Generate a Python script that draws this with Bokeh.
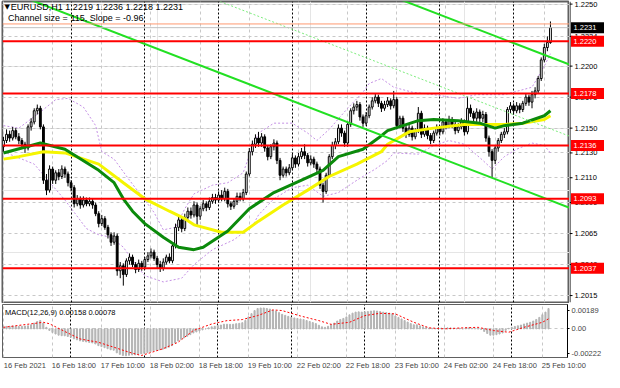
from bokeh.plotting import figure
from bokeh.layouts import column, row
from bokeh.models import Range1d, FixedTicker, Grid, Label, Span
from bokeh.core.properties import value
from bokeh.embed import file_html
from bokeh.resources import INLINE

FONT = "Liberation Sans"
FS = "7.5px"
HFS = "9px"

# ---------------- data ----------------
time_labels = ["16 Feb 2021", "16 Feb 18:00", "17 Feb 10:00", "18 Feb 02:00", "18 Feb 18:00",
               "19 Feb 10:00", "22 Feb 02:00", "22 Feb 18:00", "23 Feb 10:00", "24 Feb 02:00",
               "24 Feb 18:00", "25 Feb 10:00"]
label_bars = [0, 16, 32, 48, 64, 80, 96, 112, 128, 144, 160, 176]
day_start_bars = [22, 46, 70, 94, 118, 142, 166]
price_ticks = [1.2250, 1.2224, 1.2200, 1.2175, 1.2150, 1.2130, 1.2110, 1.2090, 1.2065, 1.2040, 1.2015]
levels = [1.2220, 1.2178, 1.2136, 1.2093, 1.2037]
bid = 1.2231
ask = 1.2234

closes = [1.2140, 1.2145, 1.2142, 1.2148, 1.2143, 1.2140, 1.2137, 1.2134, 1.2151, 1.2155,
          1.2164, 1.2166, 1.2151, 1.2108, 1.2100, 1.2117, 1.2108, 1.2114, 1.2111, 1.2117,
          1.2113, 1.2106, 1.2102, 1.2089, 1.2093, 1.2088, 1.2092, 1.2089, 1.2091, 1.2088,
          1.2081, 1.2073, 1.2077, 1.2070, 1.2064, 1.2058, 1.2063, 1.2035, 1.2039, 1.2032,
          1.2043, 1.2046, 1.2040, 1.2036, 1.2041, 1.2038, 1.2044, 1.2047, 1.2050, 1.2045,
          1.2040, 1.2037, 1.2042, 1.2046, 1.2043, 1.2055, 1.2070, 1.2076, 1.2069, 1.2078,
          1.2083, 1.2080, 1.2088, 1.2079, 1.2085, 1.2089, 1.2086, 1.2091, 1.2094, 1.2092,
          1.2096, 1.2093, 1.2099, 1.2089, 1.2087, 1.2091, 1.2095, 1.2093, 1.2098, 1.2113,
          1.2131, 1.2137, 1.2142, 1.2138, 1.2143, 1.2134, 1.2127, 1.2135, 1.2138, 1.2124,
          1.2112, 1.2117, 1.2114, 1.2118, 1.2126, 1.2121, 1.2127, 1.2131, 1.2128, 1.2122,
          1.2125, 1.2121, 1.2117, 1.2104, 1.2099, 1.2112, 1.2127, 1.2136, 1.2139, 1.2150,
          1.2146, 1.2138, 1.2153, 1.2164, 1.2167, 1.2169, 1.2159, 1.2154, 1.2160, 1.2167,
          1.2172, 1.2175, 1.2170, 1.2166, 1.2169, 1.2172, 1.2168, 1.2173, 1.2152, 1.2158,
          1.2150, 1.2145, 1.2150, 1.2143, 1.2148, 1.2162, 1.2145, 1.2150, 1.2144, 1.2140,
          1.2146, 1.2150, 1.2147, 1.2155, 1.2152, 1.2157, 1.2153, 1.2148, 1.2151, 1.2155,
          1.2147, 1.2166, 1.2162, 1.2158, 1.2163, 1.2158, 1.2161, 1.2142, 1.2131, 1.2124,
          1.2134, 1.2140, 1.2145, 1.2147, 1.2165, 1.2168, 1.2164, 1.2168, 1.2165, 1.2170,
          1.2175, 1.2171, 1.2177, 1.2180, 1.2190, 1.2205, 1.2215, 1.2219, 1.2231]

opens = [1.2135, 1.2140, 1.2145, 1.2142, 1.2148, 1.2143, 1.2140, 1.2137, 1.2134, 1.2151,
         1.2155, 1.2164, 1.2166, 1.2151, 1.2108, 1.2100, 1.2117, 1.2108, 1.2114, 1.2111,
         1.2117, 1.2113, 1.2106, 1.2102, 1.2089, 1.2093, 1.2088, 1.2092, 1.2089, 1.2091,
         1.2088, 1.2081, 1.2073, 1.2077, 1.2070, 1.2064, 1.2058, 1.2063, 1.2035, 1.2039,
         1.2032, 1.2043, 1.2046, 1.2040, 1.2036, 1.2041, 1.2038, 1.2044, 1.2047, 1.2050,
         1.2045, 1.2040, 1.2037, 1.2042, 1.2046, 1.2043, 1.2055, 1.2070, 1.2076, 1.2069,
         1.2078, 1.2083, 1.2080, 1.2088, 1.2079, 1.2085, 1.2089, 1.2086, 1.2091, 1.2094,
         1.2092, 1.2096, 1.2093, 1.2099, 1.2089, 1.2087, 1.2091, 1.2095, 1.2093, 1.2098,
         1.2113, 1.2131, 1.2137, 1.2142, 1.2138, 1.2143, 1.2134, 1.2127, 1.2135, 1.2138,
         1.2124, 1.2112, 1.2117, 1.2114, 1.2118, 1.2126, 1.2121, 1.2127, 1.2131, 1.2128,
         1.2122, 1.2125, 1.2121, 1.2117, 1.2104, 1.2099, 1.2112, 1.2127, 1.2136, 1.2139,
         1.2150, 1.2146, 1.2138, 1.2153, 1.2164, 1.2167, 1.2169, 1.2159, 1.2154, 1.2160,
         1.2167, 1.2172, 1.2175, 1.2170, 1.2166, 1.2169, 1.2172, 1.2168, 1.2173, 1.2152,
         1.2158, 1.2150, 1.2145, 1.2150, 1.2143, 1.2148, 1.2162, 1.2145, 1.2150, 1.2144,
         1.2140, 1.2146, 1.2150, 1.2147, 1.2155, 1.2152, 1.2157, 1.2153, 1.2148, 1.2151,
         1.2155, 1.2147, 1.2166, 1.2162, 1.2158, 1.2163, 1.2158, 1.2161, 1.2142, 1.2131,
         1.2124, 1.2134, 1.2140, 1.2145, 1.2147, 1.2165, 1.2168, 1.2164, 1.2168, 1.2165,
         1.2170, 1.2175, 1.2171, 1.2177, 1.2180, 1.2190, 1.2205, 1.2215, 1.2219]

highs = [1.2143, 1.2149, 1.2148, 1.2151, 1.2150, 1.2146, 1.2142, 1.2139, 1.2153, 1.2158,
         1.2166, 1.2169, 1.2168, 1.2153, 1.2113, 1.2120, 1.2119, 1.2116, 1.2117, 1.2120,
         1.2119, 1.2115, 1.2108, 1.2104, 1.2096, 1.2095, 1.2095, 1.2094, 1.2094, 1.2093,
         1.2090, 1.2083, 1.2080, 1.2079, 1.2072, 1.2066, 1.2066, 1.2065, 1.2042, 1.2041,
         1.2045, 1.2049, 1.2048, 1.2042, 1.2044, 1.2043, 1.2046, 1.2050, 1.2053, 1.2052,
         1.2047, 1.2043, 1.2045, 1.2048, 1.2049, 1.2057, 1.2073, 1.2079, 1.2078, 1.2081,
         1.2086, 1.2086, 1.2091, 1.2090, 1.2087, 1.2092, 1.2091, 1.2094, 1.2097, 1.2097,
         1.2099, 1.2100, 1.2102, 1.2101, 1.2091, 1.2093, 1.2098, 1.2098, 1.2101, 1.2115,
         1.2134, 1.2140, 1.2145, 1.2147, 1.2146, 1.2145, 1.2136, 1.2137, 1.2141, 1.2140,
         1.2126, 1.2119, 1.2119, 1.2121, 1.2129, 1.2128, 1.2130, 1.2134, 1.2137, 1.2130,
         1.2128, 1.2127, 1.2123, 1.2119, 1.2106, 1.2114, 1.2129, 1.2139, 1.2142, 1.2153,
         1.2153, 1.2148, 1.2155, 1.2166, 1.2170, 1.2172, 1.2171, 1.2161, 1.2163, 1.2169,
         1.2175, 1.2178, 1.2177, 1.2172, 1.2172, 1.2175, 1.2174, 1.2180, 1.2175, 1.2160,
         1.2160, 1.2152, 1.2153, 1.2152, 1.2150, 1.2167, 1.2164, 1.2153, 1.2152, 1.2146,
         1.2148, 1.2153, 1.2152, 1.2158, 1.2157, 1.2160, 1.2159, 1.2155, 1.2154, 1.2158,
         1.2157, 1.2175, 1.2169, 1.2164, 1.2166, 1.2165, 1.2164, 1.2163, 1.2144, 1.2133,
         1.2136, 1.2142, 1.2147, 1.2150, 1.2167, 1.2171, 1.2170, 1.2171, 1.2170, 1.2172,
         1.2178, 1.2177, 1.2180, 1.2183, 1.2192, 1.2207, 1.2218, 1.2224, 1.2236]

lows = [1.2131, 1.2138, 1.2139, 1.2140, 1.2141, 1.2137, 1.2134, 1.2130, 1.2132, 1.2148,
        1.2153, 1.2161, 1.2149, 1.2105, 1.2096, 1.2098, 1.2105, 1.2105, 1.2108, 1.2109,
        1.2110, 1.2103, 1.2099, 1.2086, 1.2087, 1.2085, 1.2086, 1.2087, 1.2087, 1.2085,
        1.2079, 1.2070, 1.2071, 1.2068, 1.2061, 1.2055, 1.2056, 1.2031, 1.2029, 1.2023,
        1.2030, 1.2040, 1.2038, 1.2033, 1.2034, 1.2035, 1.2036, 1.2042, 1.2045, 1.2043,
        1.2037, 1.2034, 1.2035, 1.2040, 1.2041, 1.2041, 1.2053, 1.2067, 1.2066, 1.2067,
        1.2076, 1.2077, 1.2078, 1.2072, 1.2076, 1.2083, 1.2083, 1.2084, 1.2089, 1.2089,
        1.2090, 1.2091, 1.2091, 1.2086, 1.2084, 1.2085, 1.2088, 1.2091, 1.2091, 1.2096,
        1.2111, 1.2128, 1.2134, 1.2135, 1.2135, 1.2131, 1.2124, 1.2125, 1.2132, 1.2121,
        1.2108, 1.2110, 1.2111, 1.2112, 1.2116, 1.2118, 1.2119, 1.2125, 1.2125, 1.2119,
        1.2120, 1.2118, 1.2114, 1.2101, 1.2090, 1.2097, 1.2110, 1.2125, 1.2133, 1.2137,
        1.2143, 1.2135, 1.2135, 1.2151, 1.2161, 1.2164, 1.2156, 1.2151, 1.2152, 1.2158,
        1.2165, 1.2170, 1.2167, 1.2163, 1.2164, 1.2167, 1.2165, 1.2166, 1.2149, 1.2150,
        1.2147, 1.2142, 1.2143, 1.2140, 1.2141, 1.2146, 1.2142, 1.2143, 1.2141, 1.2137,
        1.2138, 1.2144, 1.2144, 1.2145, 1.2149, 1.2150, 1.2150, 1.2145, 1.2146, 1.2149,
        1.2144, 1.2145, 1.2159, 1.2155, 1.2155, 1.2155, 1.2155, 1.2139, 1.2127, 1.2110,
        1.2121, 1.2131, 1.2138, 1.2142, 1.2145, 1.2162, 1.2161, 1.2162, 1.2162, 1.2163,
        1.2168, 1.2168, 1.2166, 1.2174, 1.2178, 1.2188, 1.2203, 1.2212, 1.2218]

# moving averages read at sample bars
green_bars = [0, 12, 20, 31, 36, 39, 42, 46, 52, 57, 62, 65, 73, 80, 88, 97, 104, 109,
              117, 122, 125, 135, 140, 148, 155, 160, 163, 169, 176, 178]
green_vals = [1.2130, 1.2138, 1.2133, 1.2116, 1.2106, 1.2093, 1.2083, 1.2073, 1.2062, 1.2054,
              1.2052, 1.2054, 1.2067, 1.2085, 1.2098, 1.2108, 1.2116, 1.2127, 1.2133, 1.2142,
              1.2148, 1.2156, 1.2157, 1.2156, 1.2154, 1.2150, 1.2152, 1.2154, 1.2160, 1.2164]
yellow_bars = [0, 5, 13, 20, 31, 39, 46, 54, 59, 62, 71, 78, 83, 91, 99, 106, 115, 123,
               125, 132, 140, 150, 157, 163, 169, 176, 178]
yellow_vals = [1.2125, 1.2127, 1.2131, 1.2130, 1.2121, 1.2106, 1.2093, 1.2083, 1.2077, 1.2072,
               1.2066, 1.2066, 1.2075, 1.2088, 1.2100, 1.2111, 1.2121, 1.2131, 1.2137, 1.2147,
               1.2150, 1.2153, 1.2153, 1.2153, 1.2154, 1.2157, 1.2160]
band_up_bars = [0, 5, 12, 17, 21, 26, 30, 32, 36, 41, 46, 49, 52, 56, 59, 62, 68, 73, 78, 80,
                83, 88, 94, 99, 102, 106, 112, 117, 119, 123, 127, 133, 140, 148, 154, 163,
                172, 176, 178]
band_up_vals = [1.2152, 1.2150, 1.2163, 1.2173, 1.2174, 1.2167, 1.2152, 1.2131, 1.2125, 1.2108,
                1.2092, 1.2082, 1.2068, 1.2070, 1.2085, 1.2097, 1.2104, 1.2106, 1.2114, 1.2128,
                1.2146, 1.2154, 1.2154, 1.2146, 1.2140, 1.2149, 1.2166, 1.2179, 1.2186, 1.2190,
                1.2183, 1.2179, 1.2177, 1.2174, 1.2177, 1.2177, 1.2183, 1.2200, 1.2210]
band_lo_bars = [0, 10, 20, 27, 31, 35, 39, 43, 46, 52, 58, 62, 68, 75, 81, 83, 88, 94, 99,
                104, 109, 115, 121, 125, 127, 135, 140, 145, 150, 156, 159, 163, 167, 172,
                176, 178]
band_lo_vals = [1.2131, 1.2121, 1.2092, 1.2069, 1.2064, 1.2062, 1.2054, 1.2040, 1.2031, 1.2026,
                1.2029, 1.2040, 1.2052, 1.2060, 1.2071, 1.2080, 1.2093, 1.2102, 1.2104, 1.2095,
                1.2098, 1.2108, 1.2117, 1.2124, 1.2130, 1.2129, 1.2136, 1.2140, 1.2137, 1.2124,
                1.2117, 1.2127, 1.2133, 1.2138, 1.2136, 1.2130]

# equidistant channel (end points at bar 0 and bar 184)
channel_bars = [0, 184]
channel_upper = [1.23769, 1.22014]
channel_lower = [1.22618, 1.20860]
channel_mid = [1.23194, 1.21437]

# MACD(12,26,9): histogram (main) in 1e-5 units and signal read at sample bars
macd_e5 = [16, 19, 20, 22, 20, 19, 20, 22, 24, 32, 45, 57, 65, 45, 12, -12, -28, -40, -49, -53,
           -54, -59, -65, -77, -85, -93, -97, -101, -105, -109, -117, -130, -138, -146, -154,
           -162, -166, -186, -198, -207, -209, -205, -202, -202, -198, -194, -190, -184, -178,
           -170, -166, -162, -158, -150, -142, -130, -109, -93, -81, -69, -57, -45, -32, -24,
           -16, -8, 0, 8, 16, 20, 27, 30, 36, 36, 35, 36, 40, 43, 48, 65, 93, 118, 142, 158,
           162, 162, 158, 154, 146, 138, 126, 113, 105, 97, 89, 85, 81, 77, 73, 65, 57, 49, 41,
           28, 16, 12, 20, 32, 45, 61, 73, 81, 93, 109, 122, 130, 132, 130, 132, 134, 138, 140,
           138, 134, 130, 126, 122, 118, 101, 89, 77, 65, 53, 41, 32, 32, 24, 16, 11, 6, 4, 2,
           2, 6, 6, 8, 8, 4, 2, 4, 0, 8, 8, 4, 2, 0, -4, -20, -36, -49, -49, -45, -40, -32, -12,
           4, 12, 19, 24, 30, 38, 45, 51, 61, 73, 89, 110, 130, 158]
signal_bars = [0, 13, 15, 20, 25, 31, 36, 41, 45, 52, 57, 62, 68, 73, 78, 83, 88, 91, 97,
               103, 107, 113, 118, 123, 128, 134, 139, 144, 150, 155, 160, 165, 170, 176, 178]
signal_e5 = [12, 51, 40, -20, -78, -104, -142, -181, -207, -155, -104, -13, 38, 64, 72, 103,
             147, 142, 100, 64, 35, 51, 103, 121, 116, 51, 8, 0, 8, 12, -13, -26, 12, 51, 78]
macd_ticks = [0.00189, 0.0, -0.00222]

# ---------------- main price panel ----------------
XR = Range1d(-0.32, 184.2)
YR = Range1d(1.20094, 1.22521)
AXW = 35

p1 = figure(width=604 - AXW, height=303, x_range=XR, y_range=YR,
            output_backend="svg", toolbar_location=None, x_axis_location=None,
            y_axis_location=None, min_border_left=2, min_border_right=0,
            min_border_top=1, min_border_bottom=1, background_fill_color="white",
            border_fill_color="white", outline_line_color="#606060", outline_line_width=2)

p1.add_layout(Grid(dimension=1, ticker=FixedTicker(ticks=price_ticks),
                   grid_line_color="#c8c8c8", grid_line_dash="3 3"))
p1.add_layout(Grid(dimension=0, ticker=FixedTicker(ticks=label_bars),
                   grid_line_color="#c8c8c8", grid_line_dash="3 3"))
p1.add_layout(Grid(dimension=0, ticker=FixedTicker(ticks=day_start_bars),
                   grid_line_color="black", grid_line_dash="2 2"))

# bands
p1.line(band_up_bars, band_up_vals, color="#c490e4", line_dash="2 2", line_width=1)
p1.line(band_lo_bars, band_lo_vals, color="#c490e4", line_dash="2 2", line_width=1)

# candles
idx = list(range(len(closes)))
p1.segment(idx, highs, idx, lows, color="black", line_width=1)
inc = [i for i in idx if closes[i] >= opens[i]]
dec = [i for i in idx if closes[i] < opens[i]]
p1.vbar(x=inc, top=[closes[i] for i in inc], bottom=[opens[i] for i in inc], width=0.6,
        fill_color="white", line_color="black", line_width=1)
p1.vbar(x=dec, top=[opens[i] for i in dec], bottom=[closes[i] for i in dec], width=0.6,
        fill_color="black", line_color="black", line_width=1)

# moving averages
p1.line(yellow_bars, yellow_vals, color="#f5f500", line_width=3)
p1.line(green_bars, green_vals, color="#0b8a0b", line_width=3)

# channel
p1.line(channel_bars, channel_upper, color="#22e022", line_width=2)
p1.line(channel_bars, channel_lower, color="#22e022", line_width=2)
p1.line(channel_bars, channel_mid, color="#7cec7c", line_width=1, line_dash="2 2")

# bid / ask lines
p1.add_layout(Span(location=ask, dimension="width", line_color="#ff9a70", line_width=1))
p1.add_layout(Span(location=bid, dimension="width", line_color="#c0c0c0", line_width=1))

# red levels
for lv in levels:
    p1.add_layout(Span(location=lv, dimension="width", line_color="red", line_width=2))

# header texts
p1.add_layout(Label(x=0.3, y=1.22478, text="\u25bc", text_font="DejaVu Sans", text_font_size="7px",
                    text_baseline="middle", text_color="black"))
p1.add_layout(Label(x=2.4, y=1.22478, text="EURUSD,H1  1.2219 1.2236 1.2218 1.2231",
                    text_font=FONT, text_font_size=HFS, text_baseline="middle", text_color="black"))
p1.add_layout(Label(x=1.5, y=1.22384, text="Channel size = 115, Slope = -0.96",
                    text_font=FONT, text_font_size=HFS, text_baseline="middle", text_color="black"))

# ---------------- price scale strip (shares the price range) ----------------
p3 = figure(width=AXW, height=303, x_range=Range1d(0, AXW), y_range=YR,
            output_backend="svg", toolbar_location=None, x_axis_location=None,
            y_axis_location=None, min_border_left=0, min_border_right=0,
            min_border_top=1, min_border_bottom=1, background_fill_color="white",
            border_fill_color="white", outline_line_color=None)
p3.xgrid.visible = False
p3.ygrid.visible = False
p3.add_layout(Span(location=0.5, dimension="height", line_color="black", line_width=1))
p3.segment(x0=0, x1=3, y0=price_ticks, y1=price_ticks, color="black", line_width=1)
p3.text(x=5, y=price_ticks, text=["%.4f" % t for t in price_ticks], text_font=value(FONT),
        text_font_size=value(FS), text_baseline="middle", text_align="left", text_color="black")
# level tags
p3.rect(x=18, y=levels, width=33, height=11, height_units="screen", fill_color="red",
        line_color=None)
p3.text(x=4, y=levels, text=["%.4f" % v for v in levels], text_font=value(FONT),
        text_font_size=value(FS), text_baseline="middle", text_align="left", text_color="white")
p3.rect(x=18, y=[bid], width=33, height=11, height_units="screen", fill_color="black",
        line_color=None)
p3.text(x=4, y=[bid], text=["%.4f" % bid], text_font=value(FONT),
        text_font_size=value(FS), text_baseline="middle", text_align="left", text_color="white")

# ---------------- MACD ----------------
p2 = figure(width=604, height=69, x_range=XR, y_range=Range1d(-0.00222, 0.00189),
            output_backend="svg", toolbar_location=None, x_axis_location="below",
            y_axis_location="right", min_border_left=2, min_border_right=AXW,
            min_border_top=1, min_border_bottom=14, background_fill_color="white",
            border_fill_color="white", outline_line_color="#606060")

xa = p2.xaxis[0]
xa.ticker = FixedTicker(ticks=[b + 7 for b in label_bars])
xa.major_label_overrides = {b + 7: t for b, t in zip(label_bars, time_labels)}
xa.major_tick_out = 0
xa.major_tick_in = 0
xa.minor_tick_out = 0
xa.minor_tick_in = 0
xa.major_label_standoff = 3
xa.axis_line_color = None
xa.major_label_text_font = FONT
xa.major_label_text_font_size = FS

ya2 = p2.yaxis[0]
label_pos = [0.00146, 0.0, -0.00188]
ya2.ticker = FixedTicker(ticks=label_pos)
ya2.major_label_overrides = {pos: ("%.5f" % v if v != 0 else "0.00") for pos, v in zip(label_pos, macd_ticks)}
ya2.major_label_text_font = FONT
ya2.major_label_text_font_size = FS
ya2.major_tick_out = 2
ya2.major_tick_in = 0
ya2.minor_tick_out = 0
ya2.minor_tick_in = 0
ya2.major_label_standoff = 2
ya2.axis_line_color = "black"

p2.ygrid.ticker = FixedTicker(ticks=[0.0])
p2.ygrid.grid_line_color = "#c8c8c8"
p2.ygrid.grid_line_dash = "3 3"
p2.xgrid.ticker = FixedTicker(ticks=label_bars)
p2.xgrid.grid_line_color = "#c8c8c8"
p2.xgrid.grid_line_dash = "3 3"
p2.add_layout(Grid(dimension=0, ticker=FixedTicker(ticks=day_start_bars),
                   grid_line_color="black", grid_line_dash="2 2"))

macd = [v * 1e-5 for v in macd_e5]
signal = [v * 1e-5 for v in signal_e5]
p2.vbar(x=idx, top=macd, bottom=0, width=0.35, color="#b4b4b4")
p2.line(signal_bars, signal, color="red", line_dash="2 2", line_width=1)
p2.add_layout(Label(x=0.5, y=0.00125, text="MACD(12,26,9) 0.00158 0.00078", text_font=FONT,
                    text_font_size=FS, text_baseline="middle", text_color="black"))

layout = column(row(p1, p3, spacing=0), p2, spacing=0)
open("out.html", "w").write(file_html(layout, INLINE))
